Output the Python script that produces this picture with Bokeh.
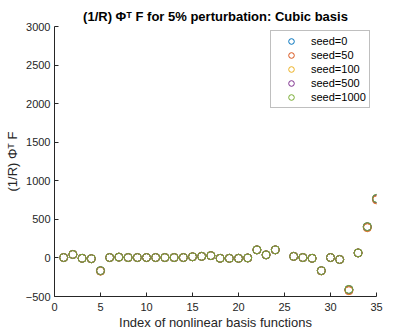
from bokeh.plotting import figure
from bokeh.models import Range1d, FixedTicker, Legend, LegendItem
from bokeh.embed import file_html
from bokeh.resources import INLINE

idx = [1, 2, 3, 4, 5, 6, 7, 8, 9, 10, 11, 12, 13, 14, 15, 16, 17, 18, 19, 20,
       21, 22, 23, 24, 26, 27, 28, 29, 30, 31, 32, 33, 34, 35]
seed0 = [5, 45, -5, -10, -165, 5, 10, 5, 5, 5, 5, 5, 5, 5, 15, 20, 30, -5, -5, -5,
         0, 105, 40, 105, 20, 5, -5, -165, 5, -20, -410, 65, 405, 770]
seed50 = [5, 45, -5, -10, -172, 5, 10, 5, 5, 5, 5, 5, 5, 5, 15, 20, 30, -5, -5, -5,
          0, 105, 40, 105, 20, 5, -5, -168, 5, -20, -425, 65, 392, 752]
seed100 = [5, 45, -5, -10, -168, 5, 10, 5, 5, 5, 5, 5, 5, 5, 15, 20, 30, -5, -5, -5,
           0, 105, 40, 105, 20, 5, -5, -166, 5, -20, -418, 65, 398, 760]
seed500 = [5, 45, -5, -10, -166, 5, 10, 5, 5, 5, 5, 5, 5, 5, 15, 20, 30, -5, -5, -5,
           0, 105, 40, 105, 20, 5, -5, -165, 5, -20, -412, 65, 403, 765]
seed1000 = [5, 45, -5, -10, -165, 5, 10, 5, 5, 5, 5, 5, 5, 5, 15, 20, 30, -5, -5, -5,
            0, 105, 40, 105, 20, 5, -5, -165, 5, -20, -408, 65, 406, 772]
series = [("seed=0", seed0, "#0072BD"), ("seed=50", seed50, "#D95319"),
          ("seed=100", seed100, "#EDB120"), ("seed=500", seed500, "#7E2F8E"),
          ("seed=1000", seed1000, "#77AC30")]
x_ticks = [0, 5, 10, 15, 20, 25, 30, 35]
y_ticks = [-500, 0, 500, 1000, 1500, 2000, 2500, 3000]

FONT = "Liberation Sans"
AX = "#262626"

p = figure(width=415, height=332, output_backend="svg", toolbar_location=None,
           x_range=Range1d(0, 35), y_range=Range1d(-500, 3000),
           min_border_left=54, min_border_right=39, min_border_top=26, min_border_bottom=36)
p.outline_line_color = None
p.xgrid.visible = False
p.ygrid.visible = False

p.title.text = "(1/R) \u03a6\u1d40 F for 5% perturbation: Cubic basis"
p.title.align = "center"
p.title.text_font = FONT
p.title.text_font_size = "13px"
p.title.text_font_style = "bold"
p.title.text_color = "#000000"
p.title.offset = 0
p.title.standoff = 5

for ax in (p.xaxis[0], p.yaxis[0]):
    ax.axis_line_color = AX
    ax.major_tick_line_color = AX
    ax.minor_tick_line_color = None
    ax.major_tick_in = 4
    ax.major_tick_out = 0
    ax.major_label_text_font = FONT
    ax.major_label_text_font_size = "11px"
    ax.major_label_text_color = AX
    ax.axis_label_text_font = FONT
    ax.axis_label_text_font_size = "13px"
    ax.axis_label_text_font_style = "normal"
    ax.axis_label_text_color = AX

p.xaxis.ticker = FixedTicker(ticks=x_ticks)
p.yaxis.ticker = FixedTicker(ticks=y_ticks)
p.xaxis.axis_label = "Index of nonlinear basis functions"
p.yaxis.axis_label = "(1/R) \u03a6\u1d40 F"
p.xaxis.major_label_standoff = 6
p.xaxis.axis_label_standoff = 1
p.yaxis.major_label_standoff = 4
p.yaxis.axis_label_standoff = 3

items = []
for name, vals, col in series:
    r = p.scatter(idx, vals, marker="circle", size=8, fill_color=None,
                  line_color=col, line_width=1)
    items.append(LegendItem(label=name, renderers=[r]))

leg = Legend(items=items, location=(216, 188))
leg.border_line_color = "#7f7f7f"
leg.border_line_width = 1
leg.background_fill_color = "white"
leg.background_fill_alpha = 1
leg.label_text_font = FONT
leg.label_text_font_size = "11px"
leg.label_text_color = "#000000"
leg.glyph_width = 34
leg.glyph_height = 14
leg.label_height = 14
leg.label_width = 53
leg.label_standoff = 3
leg.spacing = 0
leg.padding = 3
leg.margin = 0
p.add_layout(leg)

open("out.html", "w").write(file_html(p, INLINE))
